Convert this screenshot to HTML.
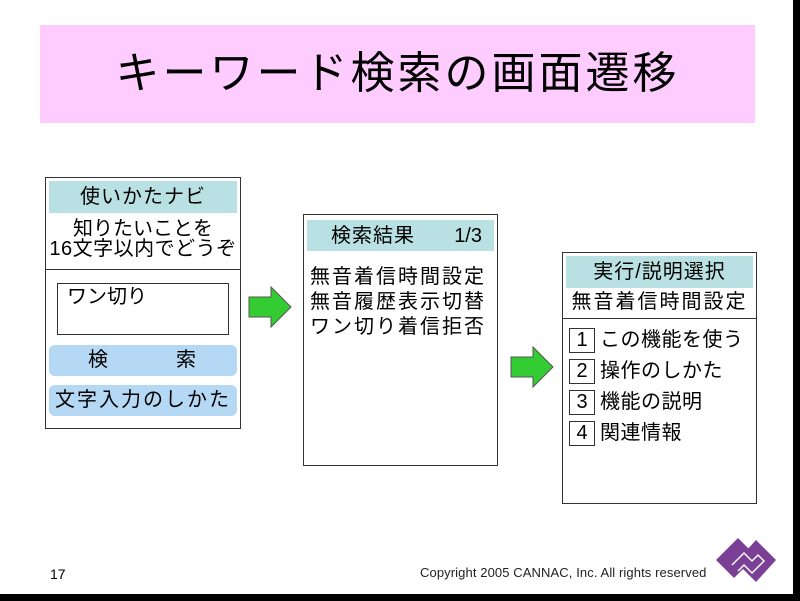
<!DOCTYPE html>
<html><head><meta charset="utf-8"><style>
body{margin:0;width:800px;height:601px;background:#000;position:relative;overflow:hidden;font-family:"Liberation Sans","Noto Sans CJK JP",sans-serif;color:#000}
.slide{position:absolute;left:0;top:0;width:793px;height:594px;background:#fff}
.a{position:absolute}
.box{position:absolute;border:1px solid #333;background:#fff}
.hd{position:absolute;background:#b9e0e2;text-align:center;font-size:20px;line-height:32px}
.t{position:absolute;font-size:20px;white-space:nowrap;line-height:22px}
.btn{position:absolute;background:#b5d8f5;border-radius:6px;text-align:center;font-size:20px;line-height:31px;letter-spacing:2px}
.num{position:absolute;border:1px solid #333;width:24px;height:23px;font-size:20px;line-height:23px;text-align:center}
</style></head><body><div class="slide">
<div class="a" style="left:40px;top:25px;width:715px;height:98px;background:#ffccff;text-align:center;font-size:44px;letter-spacing:3px;line-height:98px">キーワード検索の画面遷移</div>

<div class="box" style="left:45px;top:177px;width:194px;height:250px"></div>
<div class="hd" style="left:49px;top:181px;width:188px;height:32px;letter-spacing:1px">使いかたナビ</div>
<div class="t" style="left:45px;top:219px;width:196px;text-align:center;line-height:20px">知りたいことを<br><span style="letter-spacing:0.5px">16文字以内でどうぞ</span></div>
<div class="a" style="left:45px;top:269px;width:195px;height:1px;background:#333"></div>
<div class="box" style="left:57px;top:283px;width:170px;height:50px"></div>
<div class="t" style="left:67px;top:286px">ワン切り</div>
<div class="btn" style="left:49px;top:345px;width:188px;height:31px">検　　　索</div>
<div class="btn" style="left:49px;top:385px;width:188px;height:31px">文字入力のしかた</div>

<svg class="a" style="left:246px;top:285px" width="48" height="46"><polygon points="3,12 25,12 25,2 45,22 25,42 25,32 3,32" fill="#33cc33" stroke="#555" stroke-width="1"/></svg>

<div class="box" style="left:303px;top:214px;width:193px;height:250px"></div>
<div class="hd" style="left:307px;top:220px;width:187px;height:31px;text-align:left"><span style="margin-left:24px;letter-spacing:1px">検索結果</span><span style="position:absolute;right:12px">1/3</span></div>
<div class="t" style="left:310px;top:265px;line-height:25px;letter-spacing:2px">無音着信時間設定<br>無音履歴表示切替<br>ワン切り着信拒否</div>

<svg class="a" style="left:508px;top:345px" width="48" height="46"><polygon points="3,12 25,12 25,2 45,22 25,42 25,32 3,32" fill="#33cc33" stroke="#555" stroke-width="1"/></svg>

<div class="box" style="left:562px;top:252px;width:193px;height:250px"></div>
<div class="hd" style="left:566px;top:256px;width:187px;height:32px;letter-spacing:1px">実行/説明選択</div>
<div class="t" style="left:562px;top:291px;width:195px;text-align:center;letter-spacing:2px">無音着信時間設定</div>
<div class="a" style="left:562px;top:318px;width:194px;height:1px;background:#333"></div>
<div class="num" style="left:569px;top:328px">1</div><div class="t" style="left:600px;top:329px;letter-spacing:0.5px">この機能を使う</div>
<div class="num" style="left:569px;top:359px">2</div><div class="t" style="left:600px;top:360px;letter-spacing:0.5px">操作のしかた</div>
<div class="num" style="left:569px;top:390px">3</div><div class="t" style="left:600px;top:391px;letter-spacing:0.5px">機能の説明</div>
<div class="num" style="left:569px;top:421px">4</div><div class="t" style="left:600px;top:422px;letter-spacing:0.5px">関連情報</div>

<div class="a" style="left:50px;top:566px;font-size:14px">17</div>
<div class="a" style="left:420px;top:565px;font-size:13px;letter-spacing:0.1px;color:#222;white-space:nowrap">Copyright 2005 CANNAC, Inc. All rights reserved</div>
<svg class="a" style="left:714px;top:535px" width="64" height="52">
<polygon points="22,3 40,21 18,43 0,25" fill="#7b3f95" transform="translate(2,0)"/>
<polygon points="42,5 62,25 42,47 22,27" fill="#7b3f95"/>
<polyline points="18,30 30,18 38,26 44,20 50,26 38,38 30,30 24,36" fill="none" stroke="#fff" stroke-width="1.5"/>
</svg>
</div></body></html>
